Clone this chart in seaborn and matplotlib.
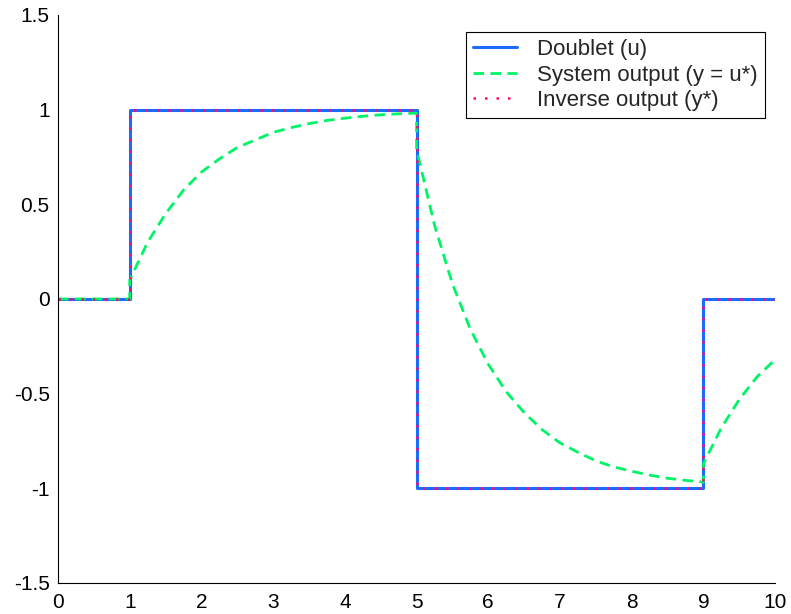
import numpy as np
import pandas as pd
import matplotlib
matplotlib.use("Agg")
import matplotlib.pyplot as plt
import seaborn as sns

# doublet input and the inverse output (identical square wave)
t_step = [0, 1, 1, 5, 5, 9, 9, 10]
u_step = [0, 0, 1, 1, -1, -1, 0, 0]
ystar_step = [0, 0, 1, 1, -1, -1, 0, 0]

# system output
t_out = [0, 1, 1, 1.25, 1.5, 1.75, 2.0, 2.25, 2.5, 2.75, 3.0, 3.25, 3.5, 3.75,
         4.0, 4.25, 4.5, 4.75, 5.0,
         5.0, 5.25, 5.5, 5.75, 6.0, 6.25, 6.5, 6.75, 7.0, 7.25, 7.5, 7.75,
         8.0, 8.25, 8.5, 8.75, 9.0,
         9.0, 9.25, 9.5, 9.75, 10.0]
y_out = [0, 0, 0.10, 0.30, 0.45, 0.575, 0.67, 0.74, 0.80, 0.84, 0.88, 0.905,
         0.926, 0.943, 0.955, 0.965, 0.973, 0.978, 0.982,
         0.79, 0.39, 0.08, -0.16, -0.345, -0.49, -0.60, -0.69, -0.76, -0.81,
         -0.855, -0.887, -0.91, -0.93, -0.947, -0.958, -0.967,
         -0.87, -0.68, -0.53, -0.41, -0.32]

labels = ["Doublet (u)", "System output (y = u*)", "Inverse output (y*)"]
x_ticks = list(range(0, 11))
y_ticks = [-1.5, -1, -0.5, 0, 0.5, 1, 1.5]
y_tick_labels = ["-1.5", "-1", "-0.5", "0", "0.5", "1", "1.5"]

sns.set_style("white")
plt.rcParams["font.family"] = ["Liberation Sans", "DejaVu Sans"]
plt.rcParams["axes.unicode_minus"] = False

fig = plt.figure(figsize=(7.91, 6.14), dpi=100)
ax = fig.add_axes([0.0733, 0.0505, 0.9067, 0.9251])

df_u = pd.DataFrame({"t": t_step, "v": u_step})
df_y = pd.DataFrame({"t": t_out, "v": y_out})
df_ys = pd.DataFrame({"t": t_step, "v": ystar_step})

sns.lineplot(data=df_u, x="t", y="v", ax=ax, estimator=None, sort=False,
             color="#1a6cff", lw=2.2, label=labels[0])
sns.lineplot(data=df_y, x="t", y="v", ax=ax, estimator=None, sort=False,
             color="#00f566", lw=2, label=labels[1])
sns.lineplot(data=df_ys, x="t", y="v", ax=ax, estimator=None, sort=False,
             color="#ff0a6a", lw=1.8, label=labels[2])

lines = ax.get_lines()
lines[1].set_linestyle((0, (3.8, 2.3)))
lines[2].set_linestyle((0, (1, 3.6)))

ax.set_xlim(0, 10)
ax.set_ylim(-1.5, 1.5)
ax.set_xticks(x_ticks)
ax.set_xticklabels([str(v) for v in x_ticks])
ax.set_yticks(y_ticks)
ax.set_yticklabels(y_tick_labels)
ax.set_xlabel("")
ax.set_ylabel("")
ax.tick_params(direction="in", length=5, width=0.8, labelsize=15, colors="black")
ax.tick_params(axis="y", pad=6)
ax.tick_params(axis="x", pad=7)

for side in ["top", "right"]:
    ax.spines[side].set_visible(False)
for side in ["left", "bottom"]:
    ax.spines[side].set_color("black")
    ax.spines[side].set_linewidth(0.8)

leg = ax.legend(loc="upper right", bbox_to_anchor=(0.986, 0.970), fontsize=16,
                frameon=True, fancybox=False, framealpha=1, edgecolor="black",
                handlelength=2.0, handletextpad=0.9, labelspacing=0.2,
                borderpad=0.32, borderaxespad=0)
leg.get_frame().set_linewidth(0.8)

fig.savefig("out.png", dpi=100)
